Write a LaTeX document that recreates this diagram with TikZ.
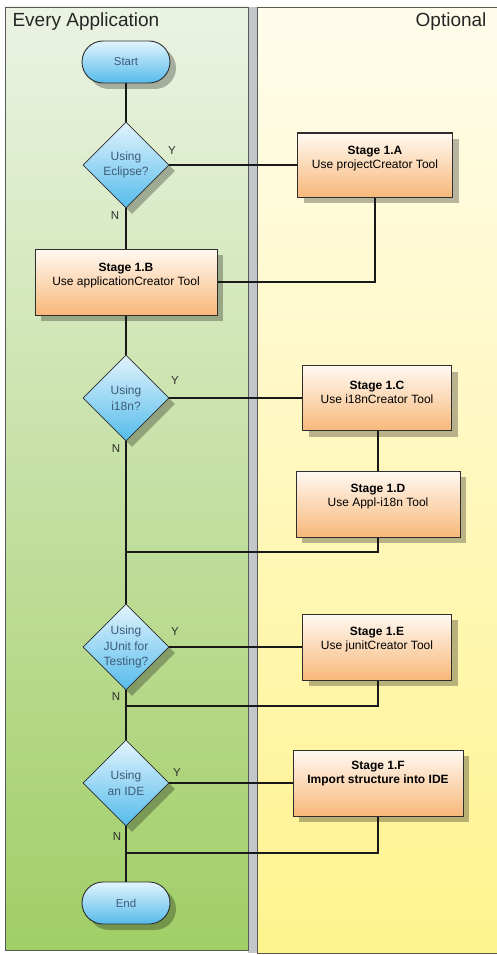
\documentclass[tikz,border=0pt]{standalone}
\usepackage{fontspec}
\setmainfont{Liberation Sans}
\usetikzlibrary{shapes.geometric,shadows,calc}

\definecolor{laneGtop}{HTML}{EBF3E3}
\definecolor{laneGbot}{HTML}{A0CE66}
\definecolor{laneYtop}{HTML}{FFFCEC}
\definecolor{laneYbot}{HTML}{FFF38E}
\definecolor{sepgray}{HTML}{C4C7CA}
\definecolor{blueTop}{HTML}{E2F4FD}
\definecolor{blueBot}{HTML}{55BBEB}
\definecolor{orangeTop}{HTML}{FFF9F2}
\definecolor{orangeBot}{HTML}{F8B87A}
\definecolor{decink}{HTML}{3E5C7A}
\definecolor{edge}{HTML}{2E2E2E}

\tikzset{
  lane/.style={draw=edge!80, line width=0.8pt},
  shade/.style={drop shadow={shadow xshift=6pt, shadow yshift=-6pt, fill=black, opacity=0.28}},
  terminal/.style={draw=edge, line width=0.9pt, shade, top color=blueTop, bottom color=blueBot,
    minimum width=88pt, minimum height=42pt, rounded corners=21pt, inner sep=0pt,
    font=\fontsize{11.5}{13}\selectfont, text=decink},
  decision/.style={diamond, draw=edge, line width=0.8pt, shade, top color=blueTop, bottom color=blueBot,
    minimum width=86pt, minimum height=86pt, inner sep=0pt},
  dectext/.style={align=center, font=\fontsize{12}{15.5}\selectfont, text=decink},
  stagebox/.style={rectangle, draw=edge, line width=1pt, shade, top color=orangeTop, bottom color=orangeBot,
    minimum height=66pt, inner sep=0pt},
  stagetext/.style={align=center, font=\fontsize{12}{14}\selectfont, text=black},
  conn/.style={draw=black!90, line width=1.7pt},
  yn/.style={font=\fontsize{11.5}{13}\selectfont, text=edge},
  lanetitle/.style={font=\fontsize{19}{22}\selectfont, text=black!85}
}

\begin{document}
\begin{tikzpicture}[x=1pt, y=-1pt]
\useasboundingbox (0,0) rectangle (496,955);
\fill[white] (0,0) rectangle (496,955);

% swimlanes
\fill[sepgray] (248,7) rectangle (257,953);
\draw[lane, top color=laneGtop, bottom color=laneGbot] (5,7) rectangle (248,950);
\draw[lane, top color=laneYtop, bottom color=laneYbot] (257,7) rectangle (505,953);
\node[lanetitle, anchor=west] (laneA) at (9,22) {Every Application};
\node[lanetitle, anchor=east] (laneB) at (490,22) {Optional};

% main column
\node[terminal] (start) at (126,62) {Start};
\node[decision] (d1) at (126,165) {};
\node[dectext] (d1t) at (126,165) {Using\\Eclipse?};
\node[stagebox, minimum width=182pt] (B) at (126,282) {};
\node[stagetext] (Bt) at (126,276) {\textbf{Stage 1.B}\\Use applicationCreator Tool};
\node[decision] (d2) at (126,398) {};
\node[dectext] (d2t) at (126,398) {Using\\i18n?};
\node[decision] (d3) at (126,647) {};
\node[dectext] (d3t) at (126,647) {Using\\JUnit for\\Testing?};
\node[decision] (d4) at (126,783) {};
\node[dectext] (d4t) at (126,783) {Using\\an IDE};
\node[terminal] (end) at (126,903) {End};

% optional stages
\node[stagebox, minimum width=155pt, minimum height=64pt] (A) at (375,165) {};
\node[stagetext] (At) at (375,159) {\textbf{Stage 1.A}\\Use projectCreator Tool};
\node[stagebox, minimum width=149pt, minimum height=65pt] (C) at (377,398) {};
\node[stagetext] (Ct) at (377,392) {\textbf{Stage 1.C}\\Use i18nCreator Tool};
\node[stagebox, minimum width=164pt] (D) at (378,504) {};
\node[stagetext] (Dt) at (378,497) {\textbf{Stage 1.D}\\Use Appl-i18n Tool};
\node[stagebox, minimum width=149pt] (E) at (377,647) {};
\node[stagetext] (Et) at (377,640) {\textbf{Stage 1.E}\\Use junitCreator Tool};
\node[stagebox, minimum width=170pt] (F) at (378,783) {};
\node[stagetext] (Ft) at (378,774) {\textbf{Stage 1.F}\\\textbf{Import structure into IDE}};

% merge points on the main column
\coordinate (j1) at (126,552);
\coordinate (j2) at (126,706);
\coordinate (j3) at (126,853);

% connectors
\draw[conn] (start) -- (d1);
\draw[conn] (d1.east) -- (d1.east -| A.west);
\draw[conn] (d1.south) -- (B.north);
\draw[conn] (A.south) |- (B.east);
\draw[conn] (B.south) -- (d2.north);
\draw[conn] (d2.east) -- (d2.east -| C.west);
\draw[conn] (C.south -| D.north) -- (D.north);
\draw[conn] (d2.south) -- (d3.north);
\draw[conn] (D.south) |- (j1);
\draw[conn] (d3.east) -- (d3.east -| E.west);
\draw[conn] (d3.south) -- (d4.north);
\draw[conn] (E.south -| D.south) |- (j2);
\draw[conn] (d4.east) -- (d4.east -| F.west);
\draw[conn] (d4.south) -- (end.north);
\draw[conn] (F.south) |- (j3);

% branch labels
\node[yn] (y1) at (172,151) {Y};
\node[yn] (n1) at (115,216) {N};
\node[yn] (y2) at (175,381) {Y};
\node[yn] (n2) at (116,449) {N};
\node[yn] (y3) at (175,632) {Y};
\node[yn] (n3) at (116,697) {N};
\node[yn] (y4) at (177,773) {Y};
\node[yn] (n4) at (117,837) {N};
\end{tikzpicture}
\end{document}
